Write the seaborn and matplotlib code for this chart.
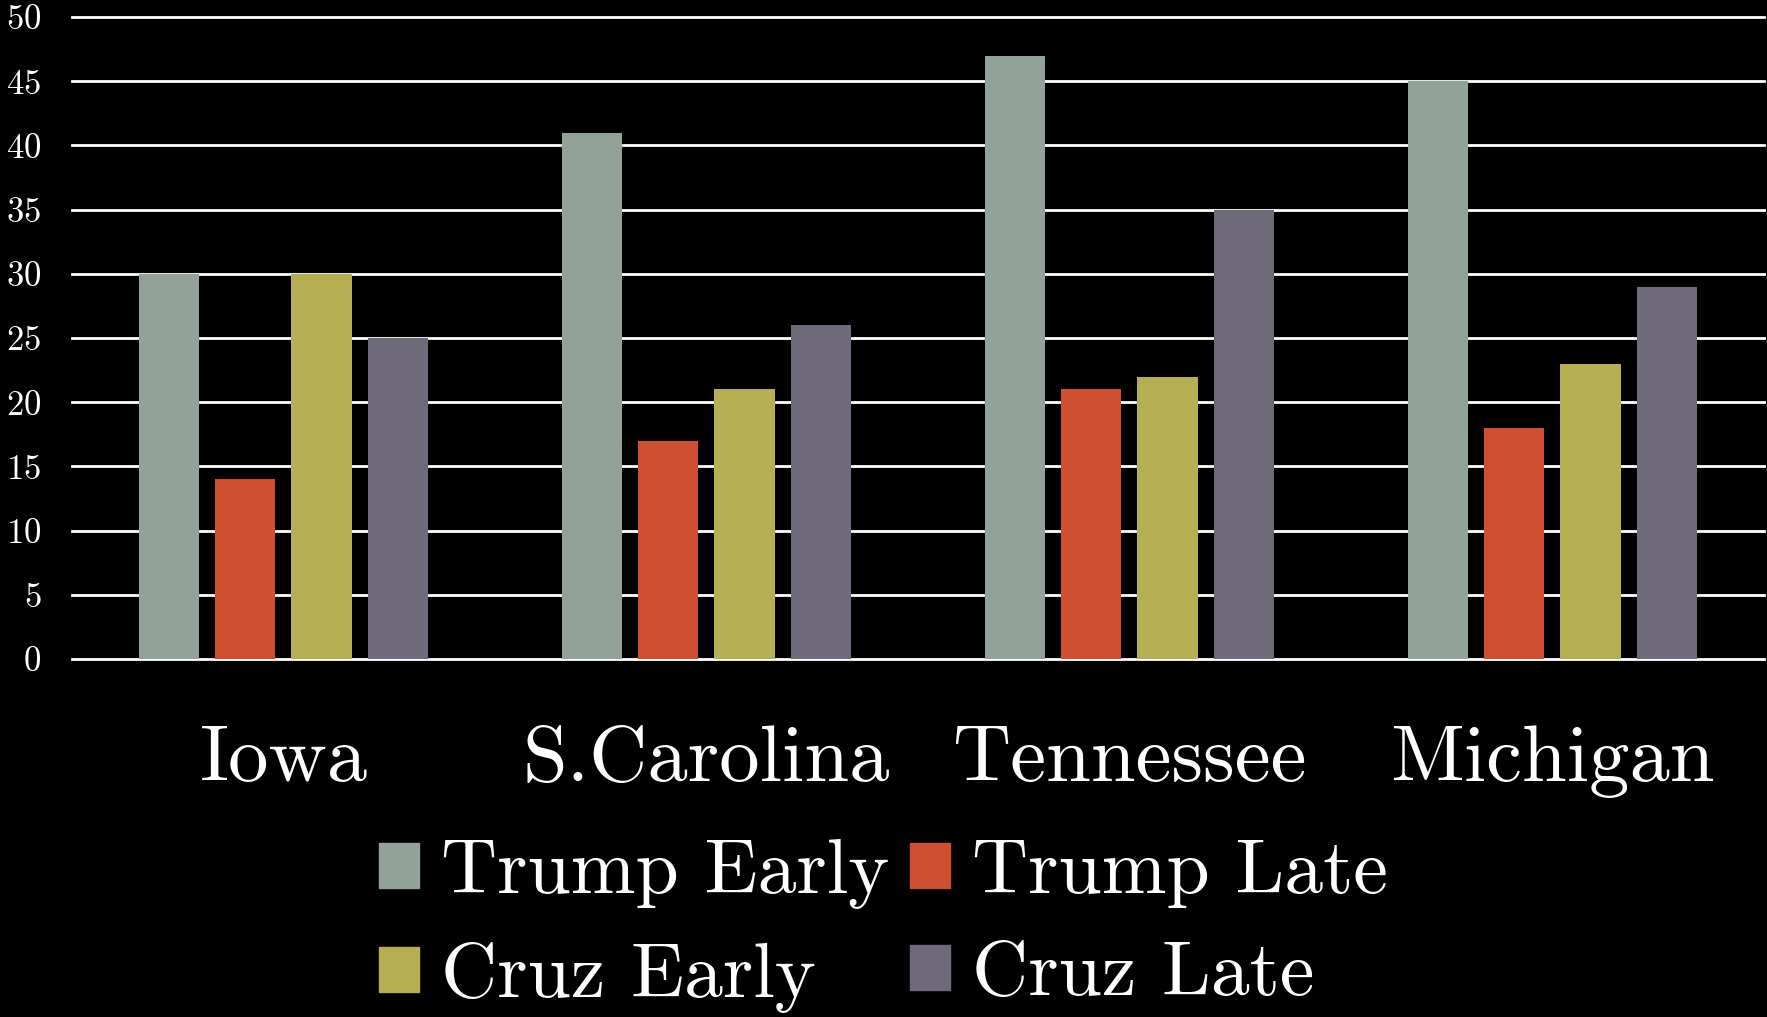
import matplotlib
matplotlib.use('Agg')
import matplotlib.pyplot as plt
import pandas as pd
import seaborn as sns

states = ['Iowa', 'S.Carolina', 'Tennessee', 'Michigan']
series = ['Trump Early', 'Trump Late', 'Cruz Early', 'Cruz Late']
trump_early = [30, 41, 47, 45]
trump_late = [14, 17, 21, 18]
cruz_early = [30, 21, 22, 23]
cruz_late = [25, 26, 35, 29]
colors = ['#93A299', '#CF4F33', '#B5AE53', '#6E6A7A']
y_ticks = list(range(0, 55, 5))

plt.rcParams['font.family'] = ['cmr10', 'DejaVu Serif']
plt.rcParams['axes.formatter.use_mathtext'] = True

rows = []
for name, vals in zip(series, [trump_early, trump_late, cruz_early, cruz_late]):
    for st, v in zip(states, vals):
        rows.append({'state': st, 'series': name, 'pct': v})
df = pd.DataFrame(rows)

fig = plt.figure(figsize=(17.67, 10.17), dpi=100, facecolor='black')
ax = fig.add_axes([0.0407, 0.352, 0.9576, 0.6313])
ax.set_facecolor('black')

sns.barplot(data=df, x='state', y='pct', hue='series', hue_order=series,
            order=states, palette=colors, saturation=1, width=0.72, gap=0.21,
            linewidth=0, errorbar=None, legend=False, ax=ax)

ax.set_xlim(-0.5, 3.5)
ax.set_ylim(0, 50)
ax.set_yticks(y_ticks)
ax.yaxis.grid(True, color='white', linewidth=2)
ax.set_axisbelow(True)
for line in ax.get_ygridlines():
    line.set_clip_on(False)
for s in ax.spines.values():
    s.set_visible(False)
ax.tick_params(axis='y', length=0, pad=22, labelsize=25, labelcolor='white')
ax.tick_params(axis='x', length=0, pad=48, labelsize=58, labelcolor='white')
ax.set_xlabel('')
ax.set_ylabel('')

# legend is filled row by row: reorder for matplotlib's column-major layout
handles = [plt.Rectangle((0, 0), 1, 1, color=c) for c in colors]
order = [0, 2, 1, 3]
fig.legend([handles[i] for i in order], [series[i] for i in order],
           loc='upper center', bbox_to_anchor=(0.5, 0.175),
           ncol=2, frameon=False, fontsize=56, labelcolor='white',
           handlelength=0.51, handleheight=0.51, handletextpad=0.28,
           columnspacing=0.27, labelspacing=0.42, borderpad=0, borderaxespad=0)

fig.savefig('out.png', dpi=100, facecolor='black')
